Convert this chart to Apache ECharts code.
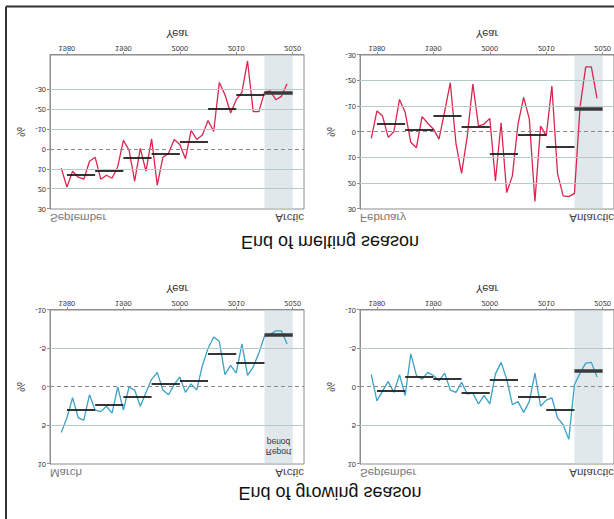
<!DOCTYPE html>
<html>
<head>
<meta charset="utf-8">
<script src="https://cdn.jsdelivr.net/npm/echarts@6/dist/echarts.min.js"></script>
<style>
  html, body { margin: 0; padding: 0; background: #fff; }
  /* the whole figure is shown mirrored top-to-bottom */
  #chart { width: 614px; height: 519px; transform: scaleY(-1); }
</style>
</head>
<body>
<div id="chart"></div>
<script>
// ---- data -------------------------------------------------------------
const years = [1979, 1980, 1981, 1982, 1983, 1984, 1985, 1986, 1987, 1988,
  1989, 1990, 1991, 1992, 1993, 1994, 1995, 1996, 1997, 1998,
  1999, 2000, 2001, 2002, 2003, 2004, 2005, 2006, 2007, 2008,
  2009, 2010, 2011, 2012, 2013, 2014, 2015, 2016, 2017, 2018, 2019];

// sea-ice extent anomaly, %
const arcticSep = [9.5, 19, 11, 14, 15, 6, 4, 15, 13, 14.5,
  8.7, -4.5, 0.3, 16, -0.5, 11, -5.3, 18, 4, 2,
  -5, -2.5, 4.7, -9.5, -5, -7.2, -14.5, -9, -33.7, -27.5,
  -18.3, -25, -28.7, -44.5, -19, -19, -28.7, -29.5, -25, -26.7, -33];

const antarcticFeb = [2.5, -8.2, -6.2, 2.1, -0.1, -12.7, -7.7, 4.0, 6.1, -6,
  -3.4, -1.2, 2.8, -7.9, -19.2, 4.4, 16.1, 1.8, -18.7, -2.3,
  -3.1, -5.3, 19.1, -3.6, 23.6, 17.1, -3.1, -13.5, -5.1, 27.1,
  -2.3, 1.5, -17.9, 16.1, 24.9, 25.2, 23.9, -9.8, -25.4, -25.4, -13.1];

const arcticMar = [5.9, 4.0, 1.4, 4.0, 4.3, 1.0, 3.0, 3.2, 2.5, 3.4,
  0.0, 3.0, 0.0, 0.4, 2.5, 0.7, -1.0, -1.9, 0.4, 1.0,
  -0.3, -1.3, 0.7, -0.4, 0.4, -2.8, -5.0, -6.5, -5.9, -1.6,
  -2.8, -1.8, -5.6, -1.5, -2.6, -4.4, -6.6, -6.8, -7.3, -7.3, -5.6];

const antarcticSep = [-1.6, 1.8, 0.5, -0.7, 0.7, -1.6, 1.1, -4.3, -1.5, -1.0,
  -1.9, -1.5, -0.8, -1.8, 0.4, 0.7, -0.6, 0.9, 0.8, 2.2,
  1.1, 2.2, -1.7, -3.2, -1.0, 2.3, 1.9, 3.3, 1.9, -1.8,
  2.5, 1.7, 1.4, 4.0, 4.9, 6.8, -0.3, -1.8, -3.1, -3.2, -1.3];

// five-year means (block start years)
const meanStarts = [1980, 1985, 1990, 1995, 2000, 2005, 2010, 2015];
const meanArcticSep = [13, 11.2, 4.5, 2.6, -3.8, -20.3, -27.2, -28.5];
const meanAntarcticFeb = [-3.1, -0.8, -6.2, -1.9, 8.6, 1.3, 6.1, -8.9];
const meanArcticMar = [3.0, 2.4, 1.3, -0.35, -0.7, -4.3, -3.1, -6.7];
const meanAntarcticSep = [0.6, -1.3, -0.95, 0.8, -0.9, 1.3, 3.0, -2.1];

// axis ticks
const yearTicks = [1980, 1990, 2000, 2010, 2020];
const ticksMelt = [-30, -20, -10, 0, 10, 20, 30];
const ticksGrow = [-10, -5, 0, 5, 10];

// report period
const reportStart = 2015;
const reportEnd = 2020;

// ---- styling ----------------------------------------------------------
const FONT = 'Liberation Sans, Arial, Helvetica, sans-serif';
const RED = '#dc2450';
const BLUE = '#3aa2c6';
const GRID_COLOR = '#b6cbc7';
const AXIS_COLOR = '#8e8e8e';
const PLOT_W = 254, PLOT_H = 154;

const panels = [
  { left: 50,  top: 310, yMin: -47.5, yMax: 30, ticks: ticksMelt, values: arcticSep,    means: meanArcticSep,    color: RED,  month: 'September', region: 'Arctic' },
  { left: 360, top: 310, yMin: -30,   yMax: 30, ticks: ticksMelt, values: antarcticFeb, means: meanAntarcticFeb, color: RED,  month: 'February',  region: 'Antarctic' },
  { left: 50,  top: 55,  yMin: -10,   yMax: 10, ticks: ticksGrow, values: arcticMar,    means: meanArcticMar,    color: BLUE, month: 'March',     region: 'Arctic', note: true },
  { left: 360, top: 55,  yMin: -10,   yMax: 10, ticks: ticksGrow, values: antarcticSep, means: meanAntarcticSep, color: BLUE, month: 'September', region: 'Antarctic' }
];

const plain = v => String(v);

const grid = [], xAxis = [], yAxis = [], series = [], graphic = [];

panels.forEach((p, i) => {
  grid.push({
    left: p.left, top: p.top, width: PLOT_W, height: PLOT_H,
    show: true, borderColor: AXIS_COLOR, borderWidth: 1, backgroundColor: 'transparent'
  });

  xAxis.push({
    gridIndex: i, type: 'value', min: 1977, max: 2022,
    name: 'Year', nameLocation: 'middle', nameGap: 16,
    nameTextStyle: { fontSize: 11, color: '#333', fontFamily: FONT },
    axisLine: { show: true, onZero: false, lineStyle: { color: AXIS_COLOR } },
    axisTick: { show: true, customValues: yearTicks, length: 3, lineStyle: { color: AXIS_COLOR } },
    axisLabel: { customValues: yearTicks, formatter: plain, fontSize: 7.5, margin: 3, color: '#333', fontFamily: FONT },
    splitLine: { show: false }
  });

  yAxis.push({
    gridIndex: i, type: 'value', min: p.yMin, max: p.yMax,
    name: '%', nameLocation: 'middle', nameGap: 24,
    nameTextStyle: { fontSize: 11, color: '#333', fontFamily: FONT },
    axisLine: { show: true, lineStyle: { color: AXIS_COLOR } },
    axisTick: { show: true, customValues: p.ticks, length: 3, lineStyle: { color: AXIS_COLOR } },
    axisLabel: { customValues: p.ticks, formatter: plain, fontSize: 7.5, margin: 4, color: '#333', fontFamily: FONT },
    splitLine: { show: false }
  });

  // horizontal grid lines and dashed zero line
  const gridLines = p.ticks
    .filter(t => t !== 0 && t > p.yMin && t < p.yMax)
    .map(t => ({ yAxis: t, lineStyle: { color: GRID_COLOR, width: 1, type: 'solid' } }));
  gridLines.push({ yAxis: 0, lineStyle: { color: '#8a8a8a', width: 1, type: [4, 3] } });
  series.push({
    type: 'line', xAxisIndex: i, yAxisIndex: i, data: [], z: 1, silent: true,
    markLine: { silent: true, symbol: ['none', 'none'], label: { show: false }, animation: false, data: gridLines }
  });

  // annual anomaly line
  series.push({
    type: 'line', xAxisIndex: i, yAxisIndex: i, z: 2,
    data: years.map((y, k) => [y, p.values[k]]),
    showSymbol: false, symbol: 'none', animation: false,
    lineStyle: { color: p.color, width: 1.3 }
  });

  // report-period band, laid over the line
  series.push({
    type: 'line', xAxisIndex: i, yAxisIndex: i, data: [], z: 3, silent: true,
    markArea: {
      silent: true, animation: false,
      itemStyle: { color: 'rgba(196,210,218,0.5)' },
      data: [[{ xAxis: reportStart }, { xAxis: reportEnd }]]
    }
  });

  // five-year means
  const meanLines = meanStarts.map((s, k) => {
    const last = k === meanStarts.length - 1;
    return [
      { coord: [s, p.means[k]], lineStyle: last ? { color: '#3a3a3a', width: 3.5 } : { color: '#1e1e1e', width: 1.8 } },
      { coord: [s + 5, p.means[k]] }
    ];
  });
  series.push({
    type: 'line', xAxisIndex: i, yAxisIndex: i, data: [], z: 4, silent: true,
    markLine: { silent: true, symbol: ['none', 'none'], label: { show: false }, animation: false,
      lineStyle: { type: 'solid' }, data: meanLines }
  });

  // month / region captions above each panel
  graphic.push({
    type: 'text', x: p.left, y: p.top - 9, z: 10,
    style: { text: p.month, fontSize: 11.5, fill: '#777', fontFamily: FONT, align: 'left', verticalAlign: 'middle' }
  });
  graphic.push({
    type: 'text', x: p.left + PLOT_W, y: p.top - 9, z: 10,
    style: { text: p.region, fontSize: 11.5, fill: '#444', fontFamily: FONT, align: 'right', verticalAlign: 'middle' }
  });

  if (p.note) {
    graphic.push({
      type: 'text', x: p.left + PLOT_W - 25.5, y: p.top + 7, z: 10,
      style: { text: 'Report\nperiod', fontSize: 8.5, lineHeight: 10, fill: '#333', fontFamily: FONT, align: 'center', verticalAlign: 'top' }
    });
  }
});

// section titles
graphic.push({
  type: 'text', x: 330, y: 26, z: 10,
  style: { text: 'End of growing season', fontSize: 18, fill: '#111', fontFamily: FONT, align: 'center', verticalAlign: 'middle' }
});
graphic.push({
  type: 'text', x: 330, y: 277, z: 10,
  style: { text: 'End of melting season', fontSize: 18, fill: '#111', fontFamily: FONT, align: 'center', verticalAlign: 'middle' }
});

// outer frame
graphic.push({ type: 'line', z: 10, shape: { x1: 6, y1: 0, x2: 6, y2: 512.5 }, style: { stroke: '#333', lineWidth: 2 } });
graphic.push({ type: 'line', z: 10, shape: { x1: 6, y1: 512.5, x2: 614, y2: 512.5 }, style: { stroke: '#333', lineWidth: 2 } });

const chart = echarts.init(document.getElementById('chart'), null, { renderer: 'svg' });
chart.setOption({
  animation: false,
  backgroundColor: '#fff',
  textStyle: { fontFamily: FONT },
  grid, xAxis, yAxis, series, graphic
});
</script>
</body>
</html>
